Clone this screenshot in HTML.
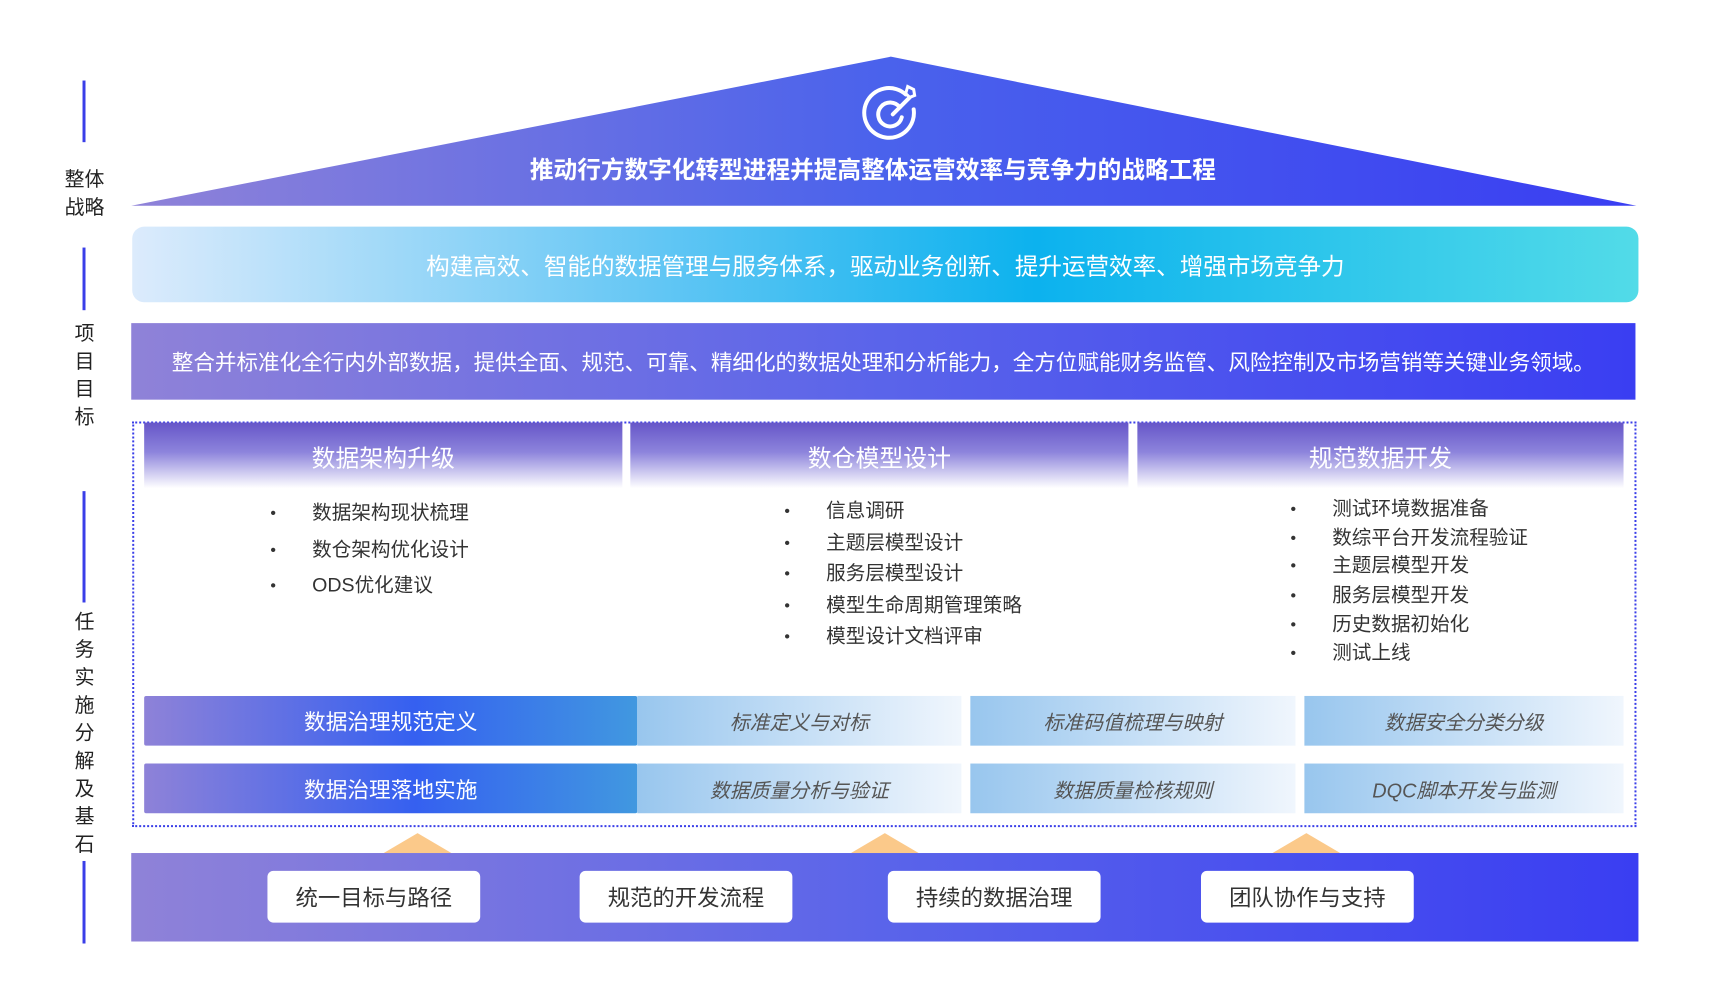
<!DOCTYPE html>
<html><head><meta charset="utf-8"><style>
*{margin:0;padding:0;box-sizing:border-box}
body{width:1718px;height:1007px;background:#fff;position:relative;overflow:hidden;font-family:"Liberation Sans","Noto Sans CJK SC",sans-serif}
#w{position:absolute;left:0;top:0;width:1718px;height:1007px;transform:scale(0.9942);transform-origin:0 0}
.a{position:absolute}
.vl{position:absolute;width:3px;background:#3a3ee8;left:83px}
.side{position:absolute;left:60px;width:50px;text-align:center;font-size:20px;color:#222;line-height:28px}
.c{display:flex;align-items:center;justify-content:center;white-space:nowrap}
.hd{position:absolute;top:425px;height:66px;background:linear-gradient(180deg,#6656c8 0%,#8d84dc 45%,#fff 100%);color:#fff;font-size:24px;padding-top:16px;text-align:center}
.li{position:absolute;font-size:19.7px;color:#333;white-space:nowrap;line-height:24px}
.li b{position:absolute;left:-42px;top:1px;font-weight:normal;font-size:16px}
.lc{position:absolute;left:145px;width:496px;height:50px;background:linear-gradient(90deg,#8e82d8,#3560f0 55%,#4198e0);color:#fff;font-size:21.8px;border-radius:2px}
.rc{position:absolute;height:50px;background:linear-gradient(90deg,#98c6ee,#f0f6fd);color:#555;font-size:20px;font-style:italic}
.bt{position:absolute;top:876px;width:214px;height:52px;background:#fff;border-radius:6px;font-size:22.5px;color:#333}
.tri{position:absolute;width:0;height:0;border-left:34px solid transparent;border-right:34px solid transparent;border-bottom:20px solid #fbc98a;top:838px}
</style></head><body><div id="w">
<svg class="a" style="left:0;top:0" width="1718" height="220">
<defs><linearGradient id="g1" x1="0" x2="1"><stop offset="0" stop-color="#8f82d8"/><stop offset="0.5" stop-color="#4a62ec"/><stop offset="1" stop-color="#3a3ef2"/></linearGradient></defs>
<polygon points="896,57 1646,207 132,207" fill="url(#g1)"/>
<g fill="none" stroke="#fff" stroke-width="4" stroke-linecap="round" transform="translate(5,0)">
<path d="M906 95 A25 25 0 1 0 914 110"/>
<path d="M900 108 A12 12 0 1 0 902 118"/>
<path d="M893 115 L910 98"/>
<path d="M906 94 L908 87 L914 90 L915 96 L910 98 Z" stroke-width="3"/>
</g>
<text x="878" y="179" text-anchor="middle" fill="#fff" font-size="23.8" font-weight="bold" font-family="Liberation Sans,Noto Sans CJK SC,sans-serif">推动行方数字化转型进程并提高整体运营效率与竞争力的战略工程</text>
</svg>
<div class="vl" style="top:81px;height:62px"></div>
<div class="side" style="top:167px">整体<br>战略</div>
<div class="vl" style="top:249px;height:63px"></div>
<div class="side" style="top:322px">项<br>目<br>目<br>标</div>
<div class="vl" style="top:494px;height:112px"></div>
<div class="side" style="top:612px">任<br>务<br>实<br>施<br>分<br>解<br>及<br>基<br>石</div>
<div class="vl" style="top:866px;height:83px"></div>

<div class="a c" style="left:133px;top:228px;width:1515px;height:76px;border-radius:12px;background:linear-gradient(90deg,#dcebfc,#62c6f4 35%,#0cb2ee 60%,#52dbe8);color:#fff;font-size:23.7px">构建高效、智能的数据管理与服务体系，驱动业务创新、提升运营效率、增强市场竞争力</div>
<div class="a c" style="left:132px;top:325px;width:1513px;height:77px;background:linear-gradient(90deg,#8f82d8,#5a64ea 50%,#3a3ef2);color:#fff;font-size:21.7px">整合并标准化全行内外部数据，提供全面、规范、可靠、精细化的数据处理和分析能力，全方位赋能财务监管、风险控制及市场营销等关键业务领域。</div>

<div class="a" style="left:133px;top:424px;width:1513px;height:408px;border:2px dotted #3a3ee8"></div>
<div class="hd" style="left:145px;width:481px">数据架构升级</div>
<div class="hd" style="left:634px;width:501px">数仓模型设计</div>
<div class="hd" style="left:1144px;width:489px">规范数据开发</div>

<div class="li" style="left:314px;top:504px"><b>•</b>数据架构现状梳理</div>
<div class="li" style="left:314px;top:541px"><b>•</b>数仓架构优化设计</div>
<div class="li" style="left:314px;top:577px"><b>•</b>ODS优化建议</div>

<div class="li" style="left:831px;top:502px"><b>•</b>信息调研</div>
<div class="li" style="left:831px;top:534px"><b>•</b>主题层模型设计</div>
<div class="li" style="left:831px;top:565px"><b>•</b>服务层模型设计</div>
<div class="li" style="left:831px;top:597px"><b>•</b>模型生命周期管理策略</div>
<div class="li" style="left:831px;top:628px"><b>•</b>模型设计文档评审</div>

<div class="li" style="left:1340px;top:500px"><b>•</b>测试环境数据准备</div>
<div class="li" style="left:1340px;top:529px"><b>•</b>数综平台开发流程验证</div>
<div class="li" style="left:1340px;top:557px"><b>•</b>主题层模型开发</div>
<div class="li" style="left:1340px;top:587px"><b>•</b>服务层模型开发</div>
<div class="li" style="left:1340px;top:616px"><b>•</b>历史数据初始化</div>
<div class="li" style="left:1340px;top:645px"><b>•</b>测试上线</div>

<div class="lc c" style="top:700px">数据治理规范定义</div>
<div class="rc c" style="left:641px;top:700px;width:326px">标准定义与对标</div>
<div class="rc c" style="left:976px;top:700px;width:327px">标准码值梳理与映射</div>
<div class="rc c" style="left:1312px;top:700px;width:321px">数据安全分类分级</div>
<div class="lc c" style="top:768px">数据治理落地实施</div>
<div class="rc c" style="left:641px;top:768px;width:326px">数据质量分析与验证</div>
<div class="rc c" style="left:976px;top:768px;width:327px">数据质量检核规则</div>
<div class="rc c" style="left:1312px;top:768px;width:321px">DQC脚本开发与监测</div>

<div class="tri" style="left:386px"></div>
<div class="tri" style="left:856px"></div>
<div class="tri" style="left:1280px"></div>

<div class="a" style="left:132px;top:858px;width:1516px;height:89px;background:linear-gradient(90deg,#8f82d8,#5a64ea 50%,#3a3ef2)"></div>
<div class="bt c" style="left:269px">统一目标与路径</div>
<div class="bt c" style="left:583px">规范的开发流程</div>
<div class="bt c" style="left:893px">持续的数据治理</div>
<div class="bt c" style="left:1208px">团队协作与支持</div>
</div></body></html>
